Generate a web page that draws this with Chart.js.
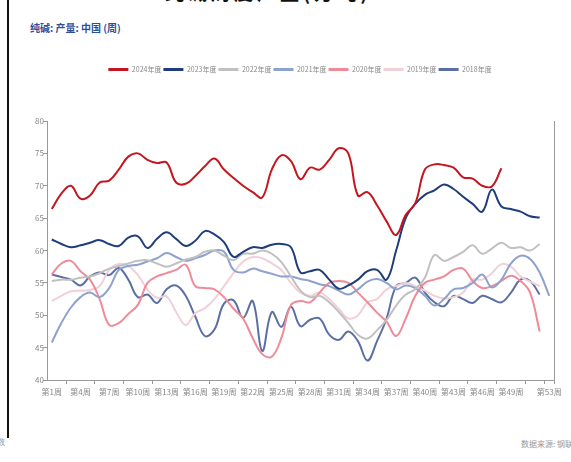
<!DOCTYPE html>
<html>
<head>
<meta charset="utf-8">
<script src="https://cdn.jsdelivr.net/npm/chart.js@4/dist/chart.umd.min.js"></script>
<style>
  html, body { margin: 0; padding: 0; background: #fff; }
  body { width: 571px; height: 462px; position: relative; overflow: hidden; font-family: 'Noto Sans CJK SC', sans-serif; }
  .edge { position: absolute; left: 7px; top: 0; width: 2px; height: 438px; background: #111; }
  .cut-title { position: absolute; left: 165px; top: -22px; font-size: 19px; font-weight: bold; color: #111; letter-spacing: 4px; }
  .sub { position: absolute; left: 30px; top: 20px; font-size: 10px; font-weight: bold; color: #2f4f9c; }
  .src { position: absolute; left: 521px; top: 438px; font-size: 8px; color: #999; white-space: nowrap; }
  .src-l { position: absolute; left: -3px; top: 436px; font-size: 8px; color: #999; }
  .wrap { position: absolute; left: 0; top: 0; width: 571px; height: 400px; }
</style>
</head>
<body>
<div class="edge"></div>
<div class="cut-title">纯碱周度产量(万吨)</div>
<div class="sub">纯碱: 产量: 中国 (周)</div>
<div class="src-l">数</div>
<div class="src">数据来源: 钢联数据</div>
<div class="wrap"><canvas id="seasonChart"></canvas></div>
<script>
// ---- data (万吨/周) ----
const weeks = Array.from({ length: 53 }, (_, i) => '第' + (i + 1) + '周');
const yearNames = ['2024年度', '2023年度', '2022年度', '2021年度', '2020年度', '2019年度', '2018年度'];
const yearColors = ['#c3161f', '#1f3d7c', '#c0c0c0', '#8ea2cf', '#ef8b99', '#f1d0d8', '#5b6fa5'];

const s2024 = [66.4, 68.8, 70.0, 68.0, 68.5, 70.5, 70.8, 72.5, 74.5, 75.0, 74.0, 73.5, 73.6, 70.5, 70.3, 71.5, 73.0, 74.2, 72.5, 71.2,
    70.0, 69.0, 68.2, 72.5, 74.7, 73.8, 71.0, 72.8, 72.5, 74.0, 75.8, 75.0, 68.5, 69.0, 67.0, 64.5, 62.4, 65.5, 67.3, 72.5,
    73.3, 73.2, 72.8, 71.3, 71.1, 70.0, 69.9, 72.7];
const s2023 = [61.7, 61.0, 60.5, 60.8, 61.2, 61.6, 61.0, 60.7, 62.0, 62.2, 60.4, 61.8, 62.8, 61.8, 60.7, 61.5, 63.0, 62.5, 61.3, 59.0,
    59.8, 60.5, 60.4, 60.9, 61.0, 60.5, 56.6, 56.8, 57.0, 55.5, 54.1, 54.6, 55.5, 56.8, 57.0, 55.5, 60.0, 65.0, 67.2, 68.6,
    69.3, 70.2, 69.5, 68.3, 67.2, 66.0, 69.4, 66.8, 66.4, 66.0, 65.3, 65.1];
const s2022 = [55.3, 55.5, 55.5, 55.8, 56.0, 56.5, 57.2, 57.6, 58.0, 58.4, 58.5, 58.0, 57.5, 58.0, 58.6, 59.0, 59.8, 60.0, 59.2, 58.5,
    59.5, 59.5, 60.0, 59.5, 58.2, 56.0, 53.8, 52.8, 53.0, 52.0, 50.5, 48.8, 47.0, 46.4, 47.7, 49.3, 51.5, 53.2, 54.0, 55.8,
    59.3, 58.4, 59.0, 59.8, 60.8, 59.5, 60.3, 61.2, 60.4, 60.5, 60.0, 61.0];
const s2021 = [45.8, 48.8, 51.2, 52.8, 53.5, 52.8, 54.2, 57.0, 57.6, 57.8, 58.3, 58.8, 59.6, 59.0, 58.4, 58.8, 59.3, 60.0, 59.8, 57.0,
    56.6, 57.2, 56.8, 56.4, 56.0, 56.0, 55.6, 55.3, 54.8, 54.5, 53.8, 53.2, 54.0, 55.2, 55.6, 55.0, 54.0, 54.6, 54.2, 53.0,
    51.5, 52.5, 54.0, 54.2, 55.0, 56.3, 54.3, 55.5, 58.0, 59.2, 58.7, 56.6, 53.0];
const s2020 = [56.3, 58.0, 58.4, 56.8, 55.5, 52.5, 48.5, 48.8, 50.2, 51.6, 55.0, 56.0, 56.5, 57.0, 57.8, 54.5, 54.2, 54.0, 52.8, 51.0,
    49.5, 46.5, 44.0, 43.6, 46.5, 51.6, 52.2, 52.0, 53.5, 55.0, 55.3, 55.0, 53.5, 52.0, 50.4, 49.0, 46.8, 49.5, 53.0, 55.0,
    55.5, 56.0, 57.0, 57.2, 55.3, 54.2, 54.5, 55.3, 56.1, 55.3, 53.5, 47.5];
const s2019 = [52.2, 53.0, 53.7, 53.8, 53.9, 54.5, 57.0, 57.9, 57.6, 56.2, 54.0, 52.7, 52.9, 50.5, 48.5, 50.3, 51.1, 52.5, 54.5, 56.5,
    58.3, 59.0, 58.8, 58.0, 57.0, 55.0, 53.5, 53.0, 53.5, 52.5, 51.0, 49.5, 50.0, 52.0, 52.5, 54.0, 54.5, 55.0, 54.5, 53.8,
    53.0, 52.6, 52.8, 53.5, 55.5, 55.5, 56.5, 57.9, 57.5, 56.0, 55.2, 54.5];
const s2018 = [56.3, 55.9, 55.5, 54.6, 56.0, 56.6, 56.2, 57.3, 55.5, 52.8, 53.2, 51.9, 54.0, 54.6, 53.0, 49.8, 46.8, 47.8, 51.8, 52.3,
    49.6, 52.2, 44.5, 50.5, 48.2, 51.3, 48.3, 49.3, 49.5, 47.0, 46.2, 47.5, 46.0, 43.0, 46.0, 49.5, 54.5, 55.0, 55.8, 53.5,
    52.0, 51.4, 53.0, 52.5, 51.9, 53.0, 52.5, 52.0, 53.5, 55.5, 55.3, 53.2];
const series = [s2024, s2023, s2022, s2021, s2020, s2019, s2018];
const yTicks = [40, 45, 50, 55, 60, 65, 70, 75, 80];

const FONT = "'Liberation Sans Narrow', 'Noto Sans CJK SC', sans-serif";

// extra room under the legend
const legendGap = {
    id: 'legendGap',
    beforeInit(chart) {
        const fit = chart.legend.fit;
        chart.legend.fit = function () {
            fit.call(this);
            this.height += 38;
        };
    }
};

new Chart(document.getElementById('seasonChart'), {
    type: 'line',
    data: {
        labels: weeks,
        datasets: yearNames.map((name, i) => ({
            label: name,
            data: series[i],
            borderColor: yearColors[i],
            backgroundColor: yearColors[i],
            borderWidth: 2,
            pointRadius: 0,
            tension: 0.4,
            order: i
        }))
    },
    options: {
        responsive: true,
        maintainAspectRatio: false,
        animation: false,
        layout: { padding: { left: 46, right: 17, top: 64, bottom: 0 } },
        plugins: {
            tooltip: { enabled: false },
            legend: {
                position: 'top',
                labels: {
                    boxWidth: 20,
                    boxHeight: 3,
                    padding: 2,
                    color: '#888',
                    font: { family: FONT, size: 7 },
                    generateLabels(chart) {
                        return Chart.defaults.plugins.legend.labels.generateLabels(chart).map(l => {
                            l.fillStyle = l.strokeStyle;
                            l.lineWidth = 0;
                            return l;
                        });
                    }
                }
            }
        },
        scales: {
            x: {
                offset: true,
                grid: { display: true, drawOnChartArea: false, offset: true, tickLength: 4, color: '#999',
                    tickColor: c => c.index === 52 ? 'rgba(0,0,0,0)' : '#999' },
                border: { color: '#999' },
                ticks: {
                    autoSkip: false,
                    maxRotation: 0,
                    padding: 3,
                    color: '#888',
                    font: { family: FONT, size: 8 },
                    callback: (v, i) => i === 52 ? weeks[i] : (i === 51 ? '' : (i % 3 === 0 ? weeks[i] : null))
                },
                afterFit: s => { s.height = 20; }
            },
            y: {
                min: 40,
                max: 80,
                afterBuildTicks: s => { s.ticks = yTicks.map(v => ({ value: v })); },
                grid: { display: true, drawOnChartArea: false, tickLength: 4, color: '#999' },
                border: { color: '#999' },
                ticks: { mirror: true, padding: -12, color: '#888', font: { family: FONT, size: 8 } },
                afterFit: s => { s.width = 1; }
            },
            y2: {
                position: 'right',
                min: 40,
                max: 80,
                grid: { display: false },
                border: { display: true, color: '#999' },
                ticks: { display: false },
                afterFit: s => { s.width = 0; }
            }
        }
    },
    plugins: [legendGap]
});
</script>
</body>
</html>
